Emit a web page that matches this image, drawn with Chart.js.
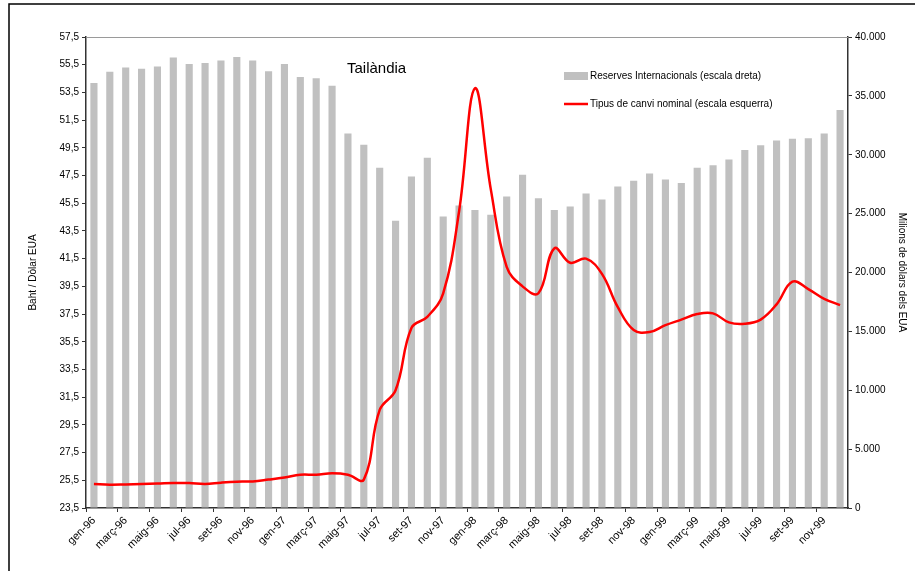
<!DOCTYPE html>
<html>
<head>
<meta charset="utf-8">
<script src="https://cdn.jsdelivr.net/npm/chart.js@4.4.0/dist/chart.umd.min.js"></script>
<style>
  html, body { margin: 0; padding: 0; background: #fff; }
</style>
</head>
<body>
<canvas id="myChart" width="915" height="571"></canvas>
<script>
// months, gen-96 .. des-99
const labels = [
  'gen-96', 'febr-96', 'març-96', 'abr-96', 'maig-96', 'juny-96', 'jul-96', 'ag-96', 'set-96', 'oct-96', 'nov-96', 'des-96',
  'gen-97', 'febr-97', 'març-97', 'abr-97', 'maig-97', 'juny-97', 'jul-97', 'ag-97', 'set-97', 'oct-97', 'nov-97', 'des-97',
  'gen-98', 'febr-98', 'març-98', 'abr-98', 'maig-98', 'juny-98', 'jul-98', 'ag-98', 'set-98', 'oct-98', 'nov-98', 'des-98',
  'gen-99', 'febr-99', 'març-99', 'abr-99', 'maig-99', 'juny-99', 'jul-99', 'ag-99', 'set-99', 'oct-99', 'nov-99', 'des-99'
];

// reserves internacionals, milions de dòlars (right axis)
const reserves = [
  36100, 37050, 37400, 37300, 37500, 38250, 37700, 37800, 38000, 38300, 38000, 37100,
  37700, 36600, 36500, 35850, 31800, 30850, 28900, 24400, 28150, 29750, 24750, 25700,
  25300, 24900, 26450, 28300, 26300, 25300, 25600, 26700, 26200, 27300, 27800, 28400,
  27900, 27600, 28900, 29100, 29600, 30400, 30800, 31200, 31350, 31400, 31800, 33800
];

// tipus de canvi nominal, baht per dòlar (left axis)
const exchangeRate = [
  25.23, 25.18, 25.20, 25.23, 25.26, 25.30, 25.30, 25.23, 25.33, 25.40, 25.42, 25.55,
  25.70, 25.90, 25.90, 26.00, 25.90, 25.55, 30.58, 32.00, 36.50, 37.30, 39.00, 44.90,
  53.80, 46.50, 40.90, 39.50, 39.00, 42.24, 41.20, 41.50, 40.40, 38.00, 36.35, 36.20,
  36.70, 37.10, 37.50, 37.55, 36.90, 36.80, 37.10, 38.20, 39.84, 39.30, 38.60, 38.15
];

const leftTicks = [23.5, 25.5, 27.5, 29.5, 31.5, 33.5, 35.5, 37.5, 39.5, 41.5, 43.5, 45.5, 47.5, 49.5, 51.5, 53.5, 55.5, 57.5];
const rightTicks = [0, 5000, 10000, 15000, 20000, 25000, 30000, 35000, 40000];

const FONT = "'Liberation Sans Narrow', 'Liberation Sans', Arial, sans-serif";
Chart.defaults.font.family = FONT;
Chart.defaults.font.size = 10;
Chart.defaults.color = '#000';

const axisColor = '#333333';

const decorations = {
  id: 'decorations',
  beforeDraw(chart) {
    const ctx = chart.ctx;
    ctx.save();
    ctx.fillStyle = '#fff';
    ctx.fillRect(0, 0, chart.width, chart.height);
    ctx.restore();
  },
  afterDraw(chart) {
    const ctx = chart.ctx;
    const a = chart.chartArea;
    ctx.save();
    // outer frame
    ctx.strokeStyle = '#000';
    ctx.lineWidth = 1.5;
    ctx.strokeRect(9, 4, 1000, 1000);
    // plot area top border
    ctx.strokeStyle = '#9a9a9a';
    ctx.lineWidth = 1;
    ctx.beginPath();
    ctx.moveTo(a.left, a.top + 0.5);
    ctx.lineTo(a.right, a.top + 0.5);
    ctx.stroke();
    // title inside plot
    ctx.fillStyle = '#000';
    ctx.textBaseline = 'middle';
    ctx.font = '15px ' + FONT;
    ctx.fillText('Tailàndia', a.left + 261, a.top + 32);
    // legend
    const bars = chart.data.datasets[1];
    const line = chart.data.datasets[0];
    const lx = a.left + 478;
    ctx.font = '10px ' + FONT;
    ctx.fillStyle = bars.backgroundColor;
    ctx.fillRect(lx, a.top + 35, 24, 8);
    ctx.fillStyle = '#000';
    ctx.fillText(bars.label, lx + 26, a.top + 39);
    ctx.strokeStyle = line.borderColor;
    ctx.lineWidth = 2.5;
    ctx.beginPath();
    ctx.moveTo(lx, a.top + 67);
    ctx.lineTo(lx + 24, a.top + 67);
    ctx.stroke();
    ctx.fillText(line.label, lx + 26, a.top + 67);
    ctx.restore();
  }
};

new Chart(document.getElementById('myChart'), {
  type: 'bar',
  data: {
    labels: labels,
    datasets: [
      {
        type: 'line',
        label: 'Tipus de canvi nominal (escala esquerra)',
        data: exchangeRate,
        yAxisID: 'yLeft',
        borderColor: '#ff0000',
        borderWidth: 2.5,
        pointRadius: 0,
        tension: 0.4,
        order: 1
      },
      {
        type: 'bar',
        label: 'Reserves Internacionals (escala dreta)',
        data: reserves,
        yAxisID: 'yRight',
        backgroundColor: '#c0c0c0',
        categoryPercentage: 1,
        barPercentage: 0.45,
        order: 2
      }
    ]
  },
  options: {
    responsive: false,
    animation: false,
    devicePixelRatio: 1,
    layout: { padding: { top: 37, left: 0, right: 0, bottom: 0 } },
    plugins: {
      legend: { display: false },
      tooltip: { enabled: false }
    },
    scales: {
      x: {
        offset: true,
        border: { color: axisColor, width: 1.5 },
        grid: {
          offset: true,
          drawOnChartArea: false,
          tickLength: 4,
          color: (c) => (c.index % 2 === 0 ? axisColor : 'rgba(0,0,0,0)')
        },
        ticks: {
          autoSkip: false,
          minRotation: 45,
          maxRotation: 45,
          padding: 2,
          font: { size: 11 },
          callback: function (value, index) {
            return index % 2 === 0 ? this.getLabelForValue(value) : '';
          }
        },
        afterFit: (s) => { s.height = 63; }
      },
      yLeft: {
        position: 'left',
        min: 23.5,
        max: 57.5,
        border: { color: axisColor, width: 1.5 },
        grid: { drawOnChartArea: false, tickLength: 4, color: axisColor },
        afterBuildTicks: (s) => { s.ticks = leftTicks.map(v => ({ value: v })); },
        ticks: {
          padding: 3,
          callback: (v) => v.toFixed(1).replace('.', ',')
        },
        title: {
          display: true,
          text: 'Baht / Dòlar EUA',
          font: { size: 10 },
          padding: { top: 27, bottom: 0 }
        },
        afterFit: (s) => { s.width = 86; }
      },
      yRight: {
        position: 'right',
        min: 0,
        max: 40000,
        border: { color: axisColor, width: 1.5 },
        grid: { drawOnChartArea: false, tickLength: 4, color: axisColor },
        afterBuildTicks: (s) => { s.ticks = rightTicks.map(v => ({ value: v })); },
        ticks: {
          padding: 3,
          callback: (v) => String(v).replace(/\B(?=(\d{3})+(?!\d))/g, '.')
        },
        title: {
          display: true,
          text: 'Milions de dòlars dels EUA',
          font: { size: 10 },
          padding: { top: 7, bottom: 0 }
        },
        afterFit: (s) => { s.width = 67; }
      }
    }
  },
  plugins: [decorations]
});
</script>
</body>
</html>
